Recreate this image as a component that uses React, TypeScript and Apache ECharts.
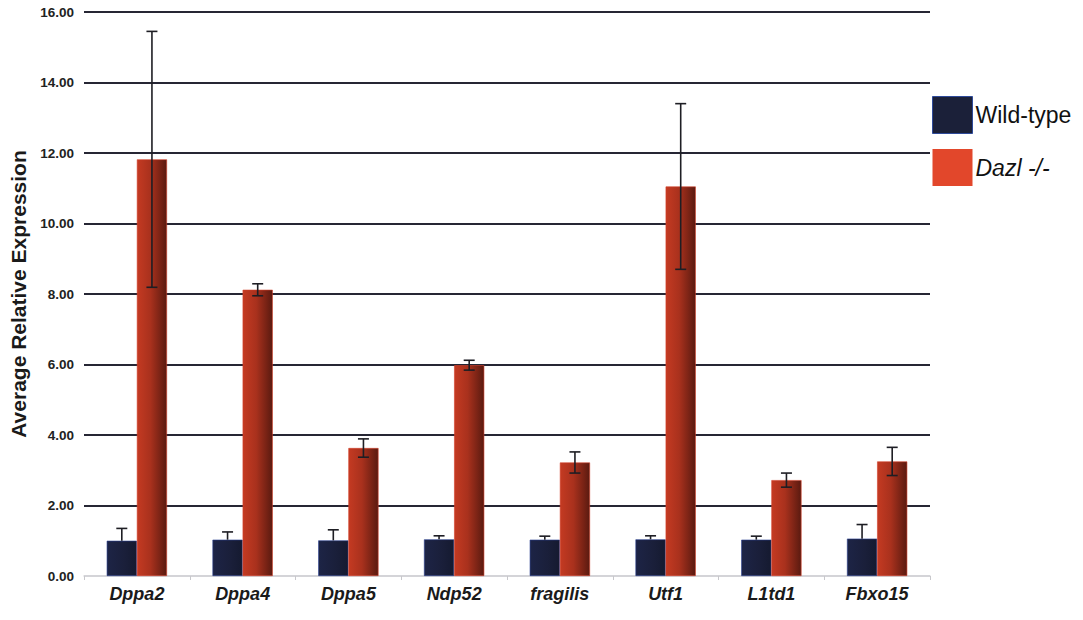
import React, { useEffect, useRef } from "react";
import * as echarts from "echarts";

// Gene targets on the x axis
const genes = ["Dppa2", "Dppa4", "Dppa5", "Ndp52", "fragilis", "Utf1", "L1td1", "Fbxo15"];

// Average relative expression per genotype
const wildType = [1.0, 1.03, 1.01, 1.04, 1.03, 1.04, 1.03, 1.06];
const dazl = [11.82, 8.12, 3.63, 5.98, 3.22, 11.05, 2.72, 3.25];

// Error bar half-widths (± value)
const wildTypeErr = [0.35, 0.22, 0.3, 0.1, 0.1, 0.1, 0.1, 0.4];
const dazlErr = [3.63, 0.17, 0.26, 0.14, 0.3, 2.35, 0.2, 0.4];

// Y axis ticks
const yTicks = [0, 2, 4, 6, 8, 10, 12, 14, 16];

const SERIES_WT = "Wild-type";
const SERIES_DAZL = "Dazl -/-";
const CATEGORY_GAP = 0.43;

// Error bars drawn at the centre of each bar; the lower whisker is optional
function errorSeries(values: number[], errs: number[], side: number, lower: boolean) {
  return {
    type: "custom",
    z: 5,
    silent: true,
    data: values.map((v, i) => [i, v, errs[i]]),
    renderItem: (params: any, api: any) => {
      const idx = api.value(0);
      const v = api.value(1);
      const e = api.value(2);
      const band = api.size([1, 0])[0];
      const barW = (band * (1 - CATEGORY_GAP)) / 2;
      const base = api.coord([idx, v]);
      const x = base[0] + (side * barW) / 2;
      const yHi = api.coord([idx, v + e])[1];
      const yLo = lower ? api.coord([idx, Math.max(0, v - e)])[1] : base[1];
      const cap = 5.5;
      const style = { stroke: "#1e1e24", lineWidth: 1.6 };
      const children: any[] = [
        { type: "line", shape: { x1: x, y1: yHi, x2: x, y2: yLo }, style },
        { type: "line", shape: { x1: x - cap, y1: yHi, x2: x + cap, y2: yHi }, style },
      ];
      if (lower) {
        children.push({ type: "line", shape: { x1: x - cap, y1: yLo, x2: x + cap, y2: yLo }, style });
      }
      return { type: "group", children };
    },
  };
}

export default function App() {
  const ref = useRef<HTMLDivElement>(null);

  useEffect(() => {
    if (!ref.current) return;
    const chart = echarts.init(ref.current, undefined, { renderer: "svg" });
    const font = "'Liberation Sans', Arial, Helvetica, sans-serif";

    const gridColors = yTicks.map((t) => (t === 0 ? "#d4d4d8" : "#262634"));

    chart.setOption({
      animation: false,
      backgroundColor: "#ffffff",
      textStyle: { fontFamily: font },
      grid: { left: 82, right: 153, top: 12, bottom: 44, containLabel: false },
      legend: {
        orient: "vertical",
        left: 927,
        top: 91,
        itemWidth: 40,
        itemHeight: 37,
        itemGap: 15,
        icon: "rect",
        textStyle: { fontSize: 23, color: "#111", fontFamily: font, padding: [0, 0, 0, -2] },
        data: [
          { name: SERIES_WT, itemStyle: { color: "#1b2039", borderColor: "#2e4a9a", borderWidth: 1 } },
          {
            name: SERIES_DAZL,
            itemStyle: { color: "#e2472b", borderColor: "#e2472b", borderWidth: 0 },
            textStyle: { fontStyle: "italic" },
          },
        ],
      },
      xAxis: {
        type: "category",
        data: genes,
        axisLine: { show: true, lineStyle: { color: "#d4d4d8", width: 1.5 } },
        axisTick: { show: true, length: 4, lineStyle: { color: "#c8c8cc" } },
        axisLabel: {
          fontSize: 18,
          fontWeight: "bold",
          fontStyle: "italic",
          color: "#1a1a1a",
          margin: 9,
          fontFamily: font,
        },
      },
      yAxis: {
        type: "value",
        min: 0,
        max: 16,
        interval: 2,
        name: "Average Relative Expression",
        nameLocation: "middle",
        nameRotate: 90,
        nameGap: 55,
        nameTextStyle: { fontSize: 21, fontWeight: "bold", color: "#1a1a1a", fontFamily: font },
        axisLine: { show: false },
        axisTick: { show: false },
        axisLabel: {
          fontSize: 13.5,
          fontWeight: "bold",
          color: "#222",
          margin: 10,
          fontFamily: font,
          formatter: (v: number) => v.toFixed(2),
        },
        splitLine: { show: true, lineStyle: { color: gridColors, width: 2 } },
      },
      series: [
        {
          name: SERIES_WT,
          type: "bar",
          data: wildType,
          barGap: "0%",
          barCategoryGap: `${CATEGORY_GAP * 100}%`,
          itemStyle: {
            color: new echarts.graphic.LinearGradient(0, 0, 1, 0, [
              { offset: 0, color: "#1d2446" },
              { offset: 0.6, color: "#1a1f3a" },
              { offset: 1, color: "#151a30" },
            ]),
            borderColor: "#2a4090",
            borderWidth: 0.6,
          },
        },
        {
          name: SERIES_DAZL,
          type: "bar",
          data: dazl,
          barGap: "0%",
          barCategoryGap: `${CATEGORY_GAP * 100}%`,
          itemStyle: {
            color: new echarts.graphic.LinearGradient(0, 0, 1, 0, [
              { offset: 0, color: "#c43a22" },
              { offset: 0.45, color: "#a9311d" },
              { offset: 1, color: "#5a1a10" },
            ]),
            borderColor: "#d2402a",
            borderWidth: 0.6,
          },
        },
        errorSeries(wildType, wildTypeErr, -1, false),
        errorSeries(dazl, dazlErr, 1, true),
      ],
    });

    return () => chart.dispose();
  }, []);

  return (
    <div
      ref={ref}
      style={{ position: "fixed", left: 0, top: 0, width: 1083, height: 620, background: "#fff" }}
    />
  );
}
